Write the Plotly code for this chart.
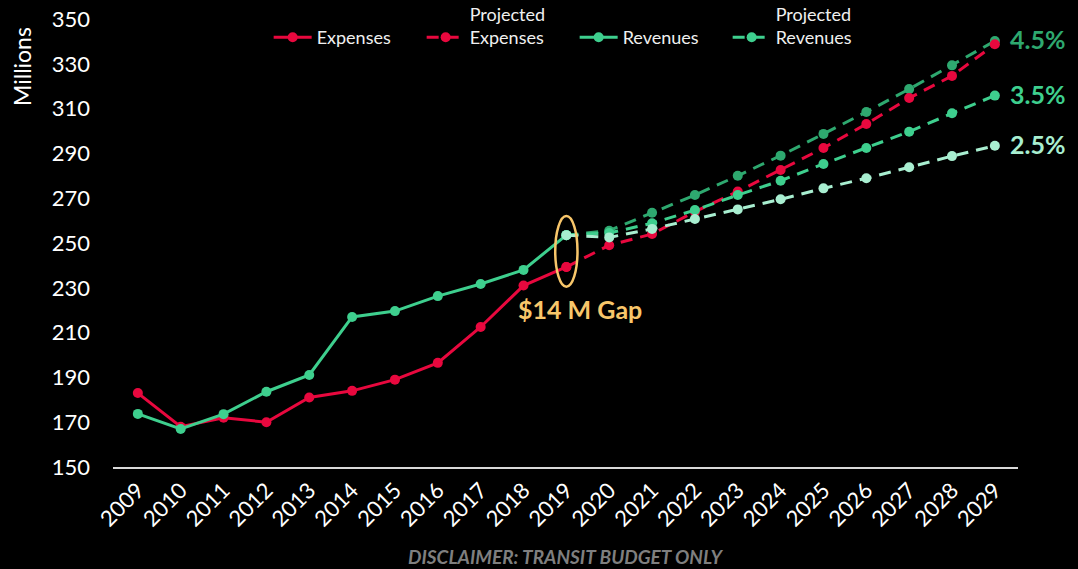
import plotly.graph_objects as go

years = list(range(2009, 2030))
hist_years = list(range(2009, 2020))
proj_years = list(range(2019, 2030))

expenses = [183, 168, 172, 170, 181, 184, 189, 196.5, 212.5, 231, 239.3]
revenues = [173.7, 167, 173.6, 183.6, 191.1, 217, 219.6, 226.3, 231.7, 238, 253.5]

proj_expenses = [239.3, 249, 254, 264, 273, 282.6, 292.4, 303.1, 314.7, 324.6, 338.7]
proj_rev_45 = [253.5, 255.5, 263.5, 271.4, 280, 289, 298.7, 308.5, 318.7, 329.3, 340.2]
proj_rev_35 = [253.5, 254.5, 258.8, 264.7, 271.4, 277.8, 285.3, 292.4, 299.7, 307.9, 315.8]
proj_rev_25 = [253.5, 252.5, 256.3, 260.7, 265, 269.5, 274.4, 278.9, 283.8, 288.8, 293.4]

rate_labels = ["4.5%", "3.5%", "2.5%"]
y_ticks = [150, 170, 190, 210, 230, 250, 270, 290, 310, 330, 350]

RED = "#e8083e"
GREEN = "#3ecf8e"
DARK_GREEN = "#2ea86f"
PALE = "#a8eed0"
GOLD = "#f8c66a"
FONT = "Lato"

fig = go.Figure()

dash = "12px,8px"

fig.add_trace(go.Scatter(x=proj_years, y=proj_rev_45, mode="lines+markers",
                         line=dict(color=DARK_GREEN, width=3, dash=dash),
                         marker=dict(size=10, color=DARK_GREEN), showlegend=False))
fig.add_trace(go.Scatter(x=proj_years, y=proj_expenses, mode="lines+markers",
                         name="Projected<br>Expenses",
                         line=dict(color=RED, width=3, dash=dash),
                         marker=dict(size=10, color=RED), legendrank=2))
fig.add_trace(go.Scatter(x=proj_years, y=proj_rev_35, mode="lines+markers",
                         name="Projected<br>Revenues",
                         line=dict(color=GREEN, width=3, dash=dash),
                         marker=dict(size=10, color=GREEN), legendrank=4))
fig.add_trace(go.Scatter(x=hist_years, y=expenses, mode="lines+markers",
                         name="&nbsp;<br>Expenses",
                         line=dict(color=RED, width=3),
                         marker=dict(size=10, color=RED), legendrank=1))
fig.add_trace(go.Scatter(x=hist_years, y=revenues, mode="lines+markers",
                         name="&nbsp;<br>Revenues",
                         line=dict(color=GREEN, width=3),
                         marker=dict(size=10, color=GREEN), legendrank=3))
fig.add_trace(go.Scatter(x=proj_years, y=proj_rev_25, mode="lines+markers",
                         line=dict(color=PALE, width=3, dash=dash),
                         marker=dict(size=10, color=PALE), showlegend=False))

# rate labels at the end of the projections
for lab, vals, col in zip(rate_labels, [proj_rev_45, proj_rev_35, proj_rev_25],
                          [DARK_GREEN, GREEN, PALE]):
    fig.add_annotation(x=proj_years[-1], y=vals[-1], text=f"<b>{lab}</b>",
                       showarrow=False, xanchor="left", xshift=13, yshift=2,
                       font=dict(family=FONT, size=25, color=col))

# gap highlight
fig.add_shape(type="circle", xref="x", yref="y",
              x0=2018.74, x1=2019.26, y0=230.5, y1=262,
              line=dict(color=GOLD, width=2.5))
fig.add_annotation(x=2019, y=220.5, text="<b>$14 M Gap</b>", showarrow=False,
                   xanchor="center", xshift=14,
                   font=dict(family=FONT, size=25, color=GOLD))

# y title
fig.add_annotation(xref="paper", yref="paper", x=-0.1006, y=0.895, text="Millions",
                   textangle=-90, showarrow=False, xanchor="center", yanchor="middle",
                   font=dict(family=FONT, size=23, color="white"))

# disclaimer
fig.add_annotation(xref="paper", yref="paper", x=0.5, y=-0.199,
                   text="<b><i>DISCLAIMER: TRANSIT BUDGET ONLY</i></b>",
                   showarrow=False, xanchor="center", yanchor="middle",
                   font=dict(family=FONT, size=19, color="#7f7f7f"))

fig.update_layout(
    width=1078, height=569,
    paper_bgcolor="black", plot_bgcolor="black",
    margin=dict(l=113, r=60, t=19, b=102, autoexpand=False),
    font=dict(family=FONT, color="white"),
    legend=dict(orientation="h", x=0.172, xanchor="left", y=1.052, yanchor="top",
                font=dict(family=FONT, size=18, color="#f0f0f0"),
                bgcolor="rgba(0,0,0,0)", valign="bottom", itemwidth=38,
                tracegroupgap=0, entrywidth=100, entrywidthmode="pixels"),
    xaxis=dict(range=[2008.42, 2029.54], tickvals=years, ticktext=[str(y) for y in years],
               tickangle=-45, showgrid=False, zeroline=False, showline=True,
               linecolor="#d9d9d9", linewidth=1.5, ticks="",
               tickfont=dict(family=FONT, size=22, color="white")),
    yaxis=dict(range=[150, 350], tickvals=y_ticks, showgrid=False, zeroline=False,
               showline=False, ticklabelstandoff=22,
               tickfont=dict(family=FONT, size=22, color="white")),
)

fig.write_html("out.html", config={"displayModeBar": False},
               post_script="document.body.style.margin='0';document.body.style.overflow='hidden';")
